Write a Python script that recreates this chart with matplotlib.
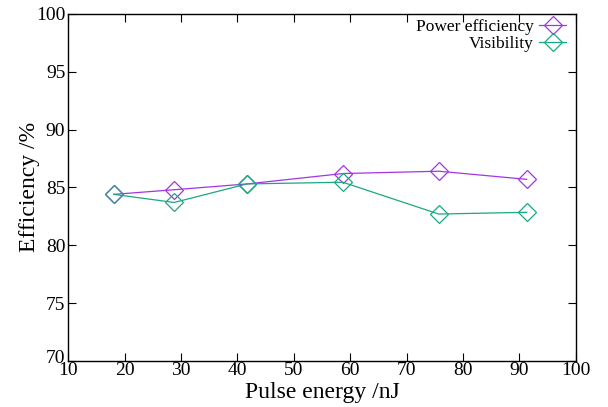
import numpy as np
import matplotlib.pyplot as plt
import matplotlib.transforms as mtransforms

plt.rcParams['font.family'] = ['Liberation Serif', 'DejaVu Serif']

# data
pulse_energy = [18.1, 28.8, 41.7, 58.7, 75.7, 91.3]
power_eff = [84.4, 84.8, 85.3, 86.2, 86.4, 85.7]
visibility = [84.4, 83.7, 85.3, 85.45, 82.7, 82.85]

fig = plt.figure(figsize=(6.08, 4.07), dpi=100)
ax = fig.add_axes([0.112, 0.113, 0.835, 0.853])

ax.plot(pulse_energy, power_eff, color='#a335e3', lw=0.9, marker='D',
        ms=9, mfc='none', mew=0.9, label='Power efficiency')
ax.plot(pulse_energy, visibility, color='#1aa882', lw=0.9, marker='D',
        ms=9, mfc='none', mew=0.9, label='Visibility')

ax.set_xlim(10, 100)
ax.set_ylim(70, 100)
ax.set_xticks(np.arange(10, 101, 10))
ax.set_yticks(np.arange(70, 101, 5))
ax.tick_params(direction='in', top=True, right=True, length=6, width=0.8,
               labelsize=14, pad=2)
ax.tick_params(axis='x', pad=1)
for s in ax.spines.values():
    s.set_linewidth(1.0)

# nudge the bottom y label up so it clears the first x label
lab70 = ax.get_yticklabels()[0]
lab70.set_transform(lab70.get_transform() +
                    mtransforms.ScaledTranslation(0, 5 / 100, fig.dpi_scale_trans))

ax.set_xlabel('Pulse energy /nJ', fontsize=17, labelpad=2)
ax.set_ylabel('Efficiency /%', fontsize=17, labelpad=-3)

leg = ax.legend(loc='upper right', bbox_to_anchor=(0.985, 0.99),
                frameon=False, markerfirst=False,
                fontsize=12.5, labelspacing=0.05, handlelength=1.6,
                borderaxespad=0.0, borderpad=0.1, handletextpad=0.3)
for t in leg.get_texts():
    t.set_ha('right')

fig.savefig('out.png', dpi=100)
